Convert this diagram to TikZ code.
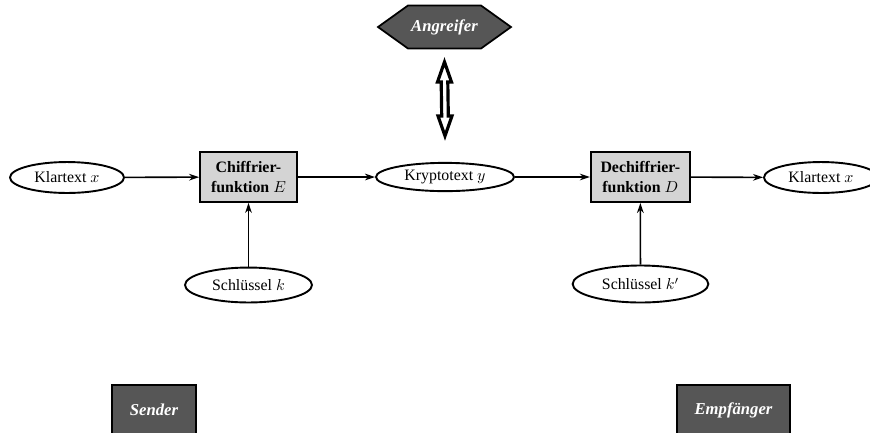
\documentclass[tikz,border=0pt]{standalone}
\usepackage{fontspec}
\setmainfont{Liberation Serif}
\usetikzlibrary{arrows.meta,calc,shapes.geometric}
\definecolor{darkbox}{RGB}{86,86,86}
\definecolor{lightbox}{RGB}{212,212,212}
\begin{document}
\begin{tikzpicture}[x=0.63pt,y=-0.63pt,
  txt/.style={font=\fontsize{10}{12}\selectfont},
  oval/.style={txt,ellipse,draw=black,line width=1.2pt,fill=white,inner sep=0pt},
  funcbox/.style={txt,draw=black,line width=1.2pt,fill=lightbox,inner sep=0pt,
    align=center,minimum height=31.5pt,font=\fontsize{10}{12.5}\selectfont\bfseries},
  rolebox/.style={draw=black,line width=1.1pt,fill=darkbox,text=white,inner sep=0pt,
    minimum height=31.5pt,font=\fontsize{10.5}{12}\selectfont\bfseries\itshape},
  flow/.style={line width=1pt,-{Stealth[length=6.3pt,width=4.2pt,inset=2pt]}}]
\useasboundingbox (0,0) rectangle (870,432);
\clip (0,0) rectangle (870,432);
% attacker hexagon
\draw[line width=1.1pt,fill=darkbox,line join=miter]
  (378,27) -- (408,5.5) -- (481,5.5) -- (511,27) -- (481,48.5) -- (408,48.5) -- cycle;
\node[text=white,font=\fontsize{10.5}{12}\selectfont\bfseries\itshape] (ang) at (444.5,27) {Angreifer};
% main chain
\node[oval,minimum width=71.8pt,minimum height=19.5pt] (kx) at (67,177.5) {Klartext $x$};
\node[funcbox,minimum width=61pt] (enc) at (248.5,177) {Chiffrier-\\funktion $E$};
\node[oval,minimum width=87pt,minimum height=17.8pt] (ky) at (445,177) {Kryptotext $y$};
\node[funcbox,minimum width=62.4pt] (dec) at (640.3,177) {Dechiffrier-\\funktion $D$};
\node[oval,minimum width=71.8pt,minimum height=19.5pt] (kx2) at (821,177.5) {Klartext $x$};
\node[oval,minimum width=80pt,minimum height=22pt] (k) at (248.5,285) {Schlüssel $k$};
\node[oval,minimum width=85.5pt,minimum height=23.3pt] (k2) at (640.5,284) {Schlüssel $k'$};
% roles
\node[rolebox,minimum width=53pt] (snd) at (154,410) {Sender};
\node[rolebox,minimum width=71.5pt] (rcv) at (733.5,410) {Empfänger};
% connectors
\draw[flow] (kx) -- (enc);
\draw[flow] (enc) -- (ky);
\draw[flow] (ky) -- (dec);
\draw[flow] (dec) -- (kx2);
\draw[flow] (k) -- (enc);
\draw[flow] (k2) -- (dec);
% double arrow between attacker and ciphertext
\coordinate (dt) at ($(ang)+(0,35)$);
\coordinate (db) at ($(ky.north)+(0,-26)$);
\draw[line width=2pt,fill=white,line join=miter,miter limit=10]
  (dt) -- ($(dt)+(7,20)$) -- ($(dt)+(3.3,20)$) -- ($(db)+(3.3,-20)$)
  -- ($(db)+(7,-20)$) -- (db) -- ($(db)+(-7,-20)$) -- ($(db)+(-3.3,-20)$)
  -- ($(dt)+(-3.3,20)$) -- ($(dt)+(-7,20)$) -- cycle;
\end{tikzpicture}
\end{document}
